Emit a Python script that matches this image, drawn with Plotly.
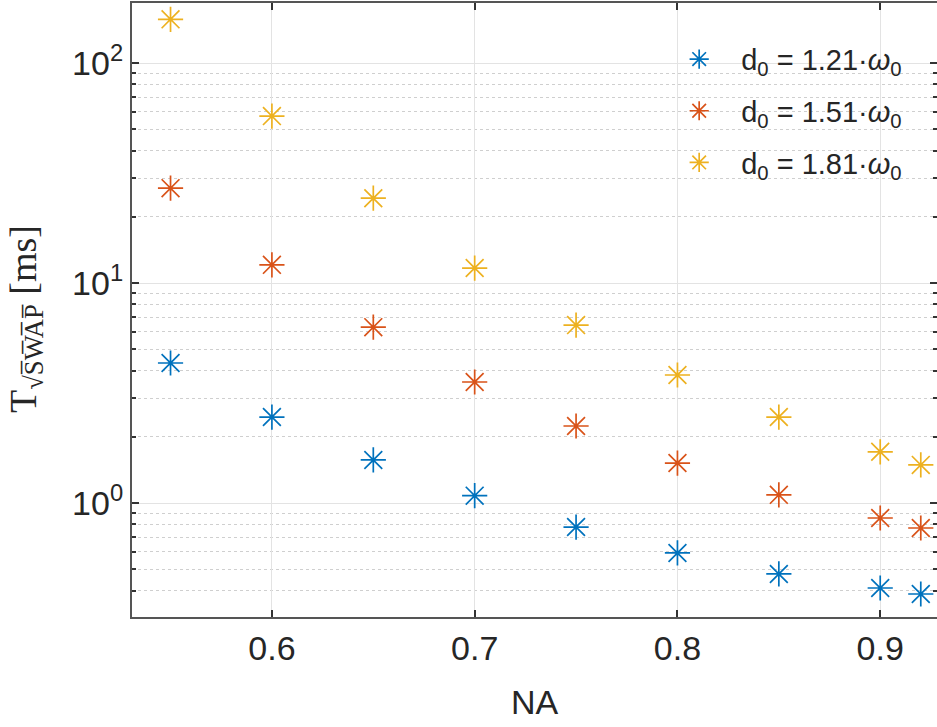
import plotly.graph_objects as go

na = [0.55, 0.6, 0.65, 0.7, 0.75, 0.8, 0.85, 0.9, 0.92]
t_121 = [4.33, 2.46, 1.57, 1.08, 0.778, 0.593, 0.476, 0.411, 0.386]
t_151 = [27.0, 12.1, 6.3, 3.55, 2.24, 1.52, 1.09, 0.855, 0.77]
t_181 = [158, 57.4, 24.3, 11.7, 6.44, 3.82, 2.46, 1.71, 1.49]
labels = ["d<sub>0</sub> = 1.21·<i>ω</i><sub>0</sub>",
          "d<sub>0</sub> = 1.51·<i>ω</i><sub>0</sub>",
          "d<sub>0</sub> = 1.81·<i>ω</i><sub>0</sub>"]
colors = ["#0072BD", "#D95319", "#EDB120"]
x_ticks = [0.6, 0.7, 0.8, 0.9]
x_ticktext = ["0.6", "0.7", "0.8", "0.9"]
y_ticks = [1, 10, 100]
y_ticktext = ["10<sup>0</sup>", "10<sup>1</sup>", "10<sup>2</sup>"]
y_title = "T<sub>√S̅W̅A̅P̅</sub> [ms]"

fig = go.Figure()
for i, (ys, lab, c) in enumerate(zip([t_121, t_151, t_181], labels, colors)):
    fig.add_trace(go.Scatter(
        x=na, y=ys, mode="markers", name=lab, legendgroup=f"g{i}",
        marker=dict(symbol="asterisk-open", size=21, color=c,
                    line=dict(color=c, width=1.7)),
    ))

axis_font = dict(family="Liberation Sans, Arial, sans-serif", size=34, color="#262626")

fig.update_layout(
    width=937, height=727,
    margin=dict(l=132, r=0, t=3, b=110, autoexpand=False),
    paper_bgcolor="white", plot_bgcolor="white",
    font=axis_font,
    showlegend=True,
    legend=dict(x=0.6524, y=0.95, xanchor="left", yanchor="top",
                bgcolor="rgba(255,255,255,0)", borderwidth=0,
                font=dict(family="Liberation Sans, Arial, sans-serif", size=29, color="#262626"),
                itemsizing="trace", itemwidth=74, tracegroupgap=11),
    annotations=[dict(
        text=y_title, xref="paper", yref="paper", x=-0.132, y=0.485,
        xanchor="center", yanchor="middle", textangle=-90, showarrow=False,
        font=dict(family="Liberation Serif, DejaVu Serif, serif", size=38, color="#262626"),
    )],
)
fig.update_xaxes(
    range=[0.531, 0.928], automargin=False,
    tickvals=x_ticks, ticktext=x_ticktext,
    showgrid=True, gridcolor="#e3e3e3", gridwidth=1,
    showline=True, linecolor="#555555", linewidth=2, mirror="ticks",
    ticks="inside", ticklen=7, tickcolor="#333333", tickwidth=1.5,
    tickfont=axis_font, zeroline=False,
    title=dict(text="NA", font=axis_font, standoff=24),
)
fig.update_yaxes(
    type="log", range=[-0.518, 2.273], automargin=False,
    tickvals=y_ticks, ticktext=y_ticktext,
    showgrid=True, gridcolor="#e3e3e3", gridwidth=1,
    minor=dict(dtick="D1", showgrid=True, gridcolor="#cfcfcf", griddash="dot",
               ticks="inside", ticklen=4, tickcolor="#333333"),
    showline=True, linecolor="#555555", linewidth=2, mirror="ticks",
    ticks="inside", ticklen=7, tickcolor="#333333", tickwidth=1.5,
    tickfont=axis_font, zeroline=False,
)

fig.write_html("out.html", config={"displayModeBar": False},
               post_script="document.body.style.margin='0';")
